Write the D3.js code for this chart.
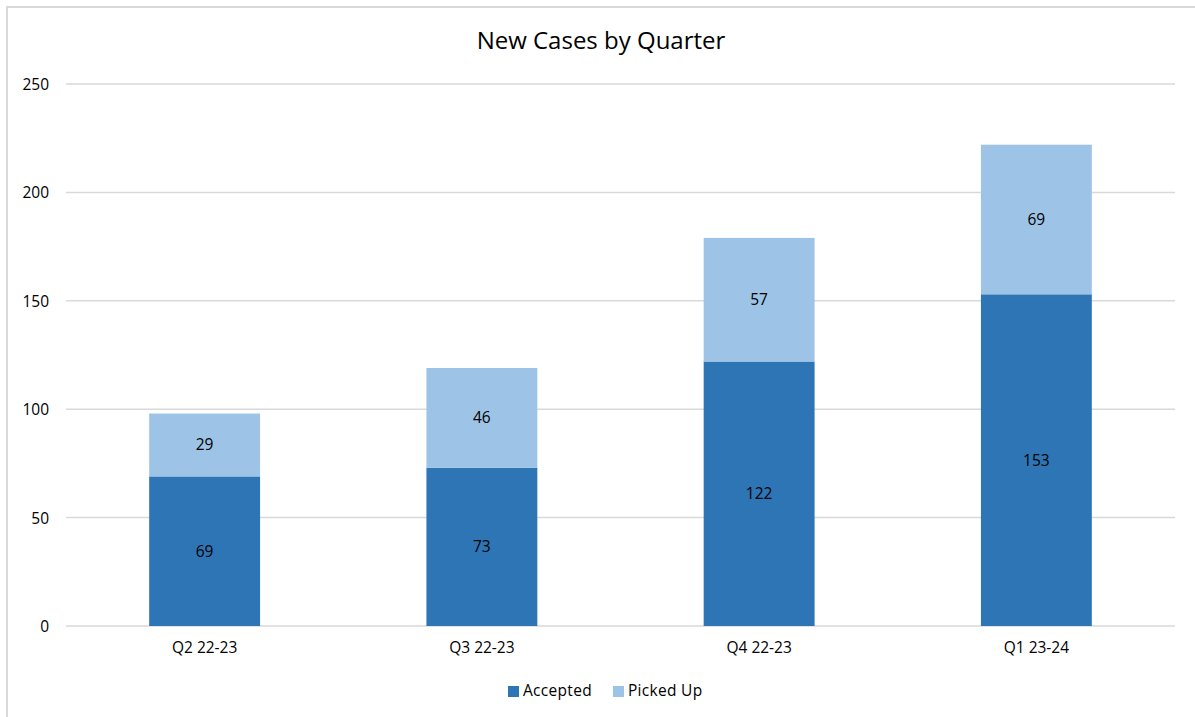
<!DOCTYPE html>
<html>
<head>
<meta charset="utf-8">
<script src="https://cdn.jsdelivr.net/npm/d3@7"></script>
<style>
  body { margin: 0; background: #fff; }
  svg { display: block; font-family: 'Open Sans', 'Noto Sans', sans-serif; }
  .grid line { stroke: #d9d9d9; stroke-width: 1.5; }
  .tick text { fill: #000; font-size: 15.5px; font-family: 'Open Sans', 'Noto Sans', sans-serif; }
</style>
</head>
<body>
<svg id="chart" width="1195" height="717"></svg>
<script>
const quarters = ['Q2 22-23', 'Q3 22-23', 'Q4 22-23', 'Q1 23-24'];
const accepted = [69, 73, 122, 153];
const pickedUp = [29, 46, 57, 69];
const seriesNames = ['Accepted', 'Picked Up'];
const yTicks = [0, 50, 100, 150, 200, 250];
const colors = ['#2e75b6', '#9dc3e6'];

const svg = d3.select('#chart');
const width = 1195, height = 717;
const margin = {top: 84, right: 20, bottom: 91, left: 66};
const plotW = 1175 - margin.left, plotH = 626 - margin.top;

// outer chart frame (only top and left edges are visible in the crop)
svg.append('path')
  .attr('d', `M7,${height} V7 H${width}`)
  .attr('fill', 'none')
  .attr('stroke', '#d9d9d9')
  .attr('stroke-width', 2);

svg.append('text')
  .attr('x', 601).attr('y', 41)
  .attr('dy', '0.35em')
  .attr('text-anchor', 'middle')
  .style('font-size', '24px')
  .attr('fill', '#000')
  .text('New Cases by Quarter');

const g = svg.append('g').attr('transform', `translate(${margin.left},${margin.top})`);

const x = d3.scaleBand().domain(quarters).range([0, plotW]).paddingInner(0.6).paddingOuter(0.3);
const y = d3.scaleLinear().domain([0, 250]).range([plotH, 0]);

g.append('g').attr('class', 'grid')
  .selectAll('line').data(yTicks).enter().append('line')
  .attr('x1', 0).attr('x2', plotW)
  .attr('y1', d => y(d)).attr('y2', d => y(d));

const yAxis = g.append('g')
  .call(d3.axisLeft(y).tickValues(yTicks).tickSize(0));
yAxis.select('.domain').remove();
yAxis.selectAll('.tick text').attr('dy', '0.35em').attr('text-anchor', 'end').attr('x', -17);

const xAxis = g.append('g').attr('transform', `translate(0,${plotH})`)
  .call(d3.axisBottom(x).tickSize(0).tickPadding(16));
xAxis.select('.domain').remove();

const rows = quarters.map((q, i) => ({q, Accepted: accepted[i], 'Picked Up': pickedUp[i]}));
const stacked = d3.stack().keys(seriesNames)(rows);

const layers = g.selectAll('.layer').data(stacked).enter().append('g')
  .attr('fill', (d, i) => colors[i]);

layers.selectAll('rect').data(d => d).enter().append('rect')
  .attr('x', d => x(d.data.q))
  .attr('width', x.bandwidth())
  .attr('y', d => y(d[1]))
  .attr('height', d => y(d[0]) - y(d[1]));

layers.selectAll('text').data(d => d).enter().append('text')
  .attr('x', d => x(d.data.q) + x.bandwidth() / 2)
  .attr('y', d => (y(d[0]) + y(d[1])) / 2)
  .attr('dy', '0.35em')
  .attr('text-anchor', 'middle')
  .attr('fill', '#000')
  .style('font-size', '15.5px')
  .text(d => d[1] - d[0]);

// legend
const legend = svg.append('g').attr('transform', 'translate(508,691)');
const legendOffsets = [0, 105];
seriesNames.forEach((name, i) => {
  const item = legend.append('g').attr('transform', `translate(${legendOffsets[i]},0)`);
  item.append('rect').attr('x', 0).attr('y', -5).attr('width', 11).attr('height', 11).attr('fill', colors[i]);
  item.append('text').attr('x', 15).attr('dy', '0.35em')
    .style('font-size', '15.5px').style('letter-spacing', '0.3px')
    .attr('fill', '#000').text(name);
});
</script>
</body>
</html>
